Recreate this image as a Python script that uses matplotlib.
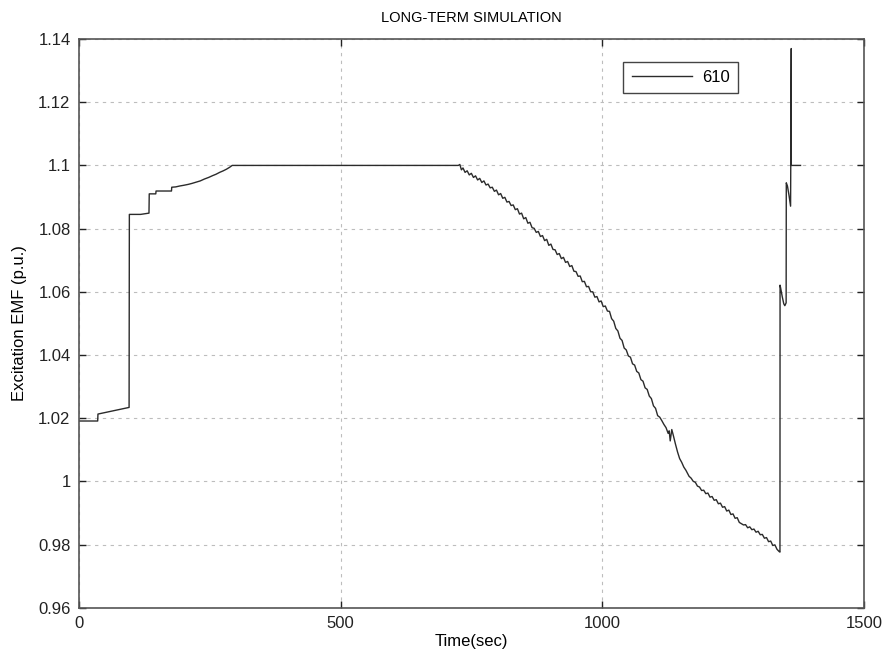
import matplotlib
matplotlib.use("Agg")
import matplotlib.pyplot as plt
import numpy as np

plt.rcParams["font.family"] = ["Liberation Sans", "DejaVu Sans"]

# Excitation EMF of generator 610 over the long-term run
time_sec = [
    0, 36, 36.5, 96, 96.5, 118, 134, 134.5, 147, 147.5, 177, 177.5,
    185, 193, 200, 209, 216, 224, 232, 240, 248, 256, 262, 269, 276,
    282, 288, 293, 725,
    728, 731, 734, 738, 742, 746, 750, 754, 758, 762, 766, 770, 774, 778,
    782, 786, 790, 794, 798, 802, 806, 810, 814, 818, 822, 826, 830, 834,
    838, 842, 846, 850, 854, 858, 862, 866, 870, 874, 878, 882, 886, 890,
    894, 898, 902, 906, 910, 914, 918, 922, 926, 930, 934, 938, 942, 946,
    950, 954, 958, 962, 966, 970, 974, 978, 982, 986, 990, 994, 998, 1002,
    1006, 1010, 1014, 1018, 1022, 1026, 1030, 1034, 1038, 1042, 1046, 1050,
    1054, 1058, 1062, 1066, 1070, 1074, 1078, 1082, 1086, 1090, 1094, 1098,
    1102, 1106, 1110, 1114, 1118, 1122, 1126, 1128, 1130, 1133, 1136, 1140,
    1144, 1148, 1152, 1156, 1160, 1166, 1170, 1174, 1178, 1182, 1186, 1190,
    1194, 1198, 1202, 1206, 1210, 1214, 1218, 1222, 1226, 1230, 1234, 1238,
    1242, 1246, 1250, 1254, 1258, 1262, 1266, 1270, 1274, 1278, 1282, 1286,
    1290, 1294, 1298, 1302, 1306, 1310, 1314, 1318, 1322, 1326, 1330, 1334,
    1338, 1339.7,
    1339.9, 1341, 1344, 1347, 1349, 1351.5,
    1351.8, 1354, 1357, 1360, 1361.3, 1361.4, 1379,
]
emf_pu = [
    1.0191, 1.0191, 1.0213, 1.0234, 1.0845, 1.0845, 1.0849, 1.0910, 1.0910, 1.0919, 1.0919, 1.0931,
    1.0932, 1.0935, 1.0937, 1.0940, 1.0943, 1.0947, 1.0951, 1.0957, 1.0962, 1.0968, 1.0972, 1.0978, 1.0983,
    1.0988, 1.0994, 1.1000, 1.1000,
    1.1003, 1.0986, 1.0992, 1.0978, 1.0983, 1.0970, 1.0975, 1.0962, 1.0967, 1.0954, 1.0959, 1.0946, 1.0951, 1.0938,
    1.0941, 1.0929, 1.0931, 1.0918, 1.0922, 1.0907, 1.0911, 1.0896, 1.0899, 1.0884, 1.0886, 1.0873, 1.0875, 1.0860,
    1.0863, 1.0846, 1.0849, 1.0831, 1.0835, 1.0817, 1.0820, 1.0803, 1.0801, 1.0788, 1.0791, 1.0775, 1.0778, 1.0762,
    1.0766, 1.0747, 1.0751, 1.0734, 1.0733, 1.0718, 1.0721, 1.0705, 1.0709, 1.0693, 1.0696, 1.0680, 1.0683, 1.0665,
    1.0664, 1.0649, 1.0650, 1.0632, 1.0633, 1.0616, 1.0617, 1.0600, 1.0600, 1.0583, 1.0585, 1.0568, 1.0571, 1.0553,
    1.0555, 1.0539, 1.0538, 1.0515, 1.0507, 1.0484, 1.0476, 1.0453, 1.0446, 1.0422, 1.0416, 1.0397,
    1.0393, 1.0372, 1.0368, 1.0348, 1.0343, 1.0322, 1.0317, 1.0296, 1.0291, 1.0270, 1.0262, 1.0239,
    1.0231, 1.0208, 1.0203, 1.0192, 1.0180, 1.0170, 1.0152, 1.0160, 1.0128, 1.0164, 1.0145, 1.0118,
    1.0093, 1.0072, 1.0060, 1.0045, 1.0035, 1.0016, 1.0010, 1.0000, 0.9997, 0.9985, 0.9982, 0.9971,
    0.9972, 0.9961, 0.9963, 0.9950, 0.9952, 0.9940, 0.9942, 0.9929, 0.9931, 0.9918, 0.9920, 0.9906,
    0.9909, 0.9895, 0.9897, 0.9883, 0.9885, 0.9870, 0.9866, 0.9862, 0.9863, 0.9853, 0.9856, 0.9847,
    0.9849, 0.9839, 0.9842, 0.9831, 0.9832, 0.9820, 0.9822, 0.9809, 0.9811, 0.9797, 0.9799, 0.9785,
    0.9778, 0.9776,
    1.0621, 1.0612, 1.0585, 1.0562, 1.0556, 1.0565,
    1.0945, 1.0935, 1.0905, 1.0871, 1.1370, 1.1000, 1.1000,
]

x_ticks = [0, 500, 1000, 1500]
y_ticks = [0.96, 0.98, 1.00, 1.02, 1.04, 1.06, 1.08, 1.10, 1.12, 1.14]
y_tick_labels = ["0.96", "0.98", "1", "1.02", "1.04", "1.06", "1.08", "1.1", "1.12", "1.14"]

fig = plt.figure(figsize=(8.86, 6.62), dpi=100)
ax = fig.add_axes([0.089, 0.082, 0.886, 0.859])

ax.plot(time_sec, emf_pu, color="#2b2b2b", linewidth=1.0, label="610")

ax.set_xlim(0, 1500)
ax.set_ylim(0.96, 1.14)
ax.set_xticks(x_ticks)
ax.set_xticklabels([str(t) for t in x_ticks])
ax.set_yticks(y_ticks)
ax.set_yticklabels(y_tick_labels)

ax.tick_params(direction="in", length=5, width=1, top=True, right=True,
               labelsize=12, colors="#222222", pad=6)
for spine in ax.spines.values():
    spine.set_color("#555555")
    spine.set_linewidth(1.2)

ax.grid(True, linestyle=(0, (3, 4)), color="#bdbdbd", linewidth=0.8)

ax.set_xlabel("Time(sec)", fontsize=12, labelpad=2)
ax.set_ylabel("Excitation EMF (p.u.)", fontsize=12, labelpad=8)
ax.set_title("LONG-TERM SIMULATION", fontsize=10.5, pad=12)

leg = ax.legend(loc="upper right", bbox_to_anchor=(0.85, 0.975), fontsize=12,
                fancybox=False, framealpha=1, edgecolor="#444444",
                handlelength=3.6, borderpad=0.5, handletextpad=0.6)
leg.get_frame().set_linewidth(1.0)

fig.savefig("out.png", dpi=100)
